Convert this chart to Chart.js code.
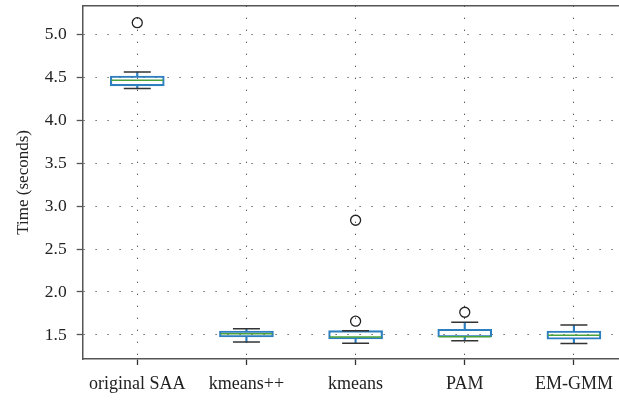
<!DOCTYPE html>
<html>
<head>
<meta charset="utf-8">
<script src="https://cdn.jsdelivr.net/npm/chart.js@4"></script>
<style>
html,body{margin:0;padding:0;background:#fff;overflow:hidden}
#wrap{width:640px;height:400px}
</style>
</head>
<body>
<div id="wrap"><canvas id="chart" width="640" height="400"></canvas></div>
<script>
// box plot values
const methods = ['original SAA','kmeans++','kmeans','PAM','EM-GMM'];
const whiskerLow  = [4.37, 1.418, 1.403, 1.433, 1.40];
const q1          = [4.40, 1.476, 1.453, 1.476, 1.45];
const median      = [4.465,1.515, 1.476, 1.48,  1.496];
const q3          = [4.515,1.546, 1.55,  1.566, 1.546];
const whiskerHigh = [4.56, 1.573, 1.55,  1.647, 1.616];
const outlierX = ['original SAA','kmeans','kmeans','PAM'];
const outlierY = [5.135, 2.835, 1.66, 1.764];
const yTicks = [1.5,2.0,2.5,3.0,3.5,4.0,4.5,5.0];

const serif = '"Liberation Serif", "DejaVu Serif", serif';
const blue = '#2e7fc0';

const topBorder = {
  id:'topBorder',
  afterDraw(c){
    const a = c.chartArea, ctx = c.ctx;
    ctx.save();
    ctx.strokeStyle = '#555'; ctx.lineWidth = 1.5;
    ctx.beginPath(); ctx.moveTo(a.left, a.top); ctx.lineTo(a.right+2, a.top); ctx.stroke();
    ctx.restore();
  }
};

function noPad(s){ s.paddingLeft = 0; s.paddingRight = 0; s.paddingTop = 0; s.paddingBottom = 0; }

new Chart($('chart'), {
  type:'bar',
  data:{
    labels: methods,
    datasets:[
      {label:'upper whisker', data: methods.map((m,i)=>[q3[i], whiskerHigh[i]]),
       backgroundColor: blue, barThickness: 1.5, grouped:false, order:5},
      {label:'lower whisker', data: methods.map((m,i)=>[whiskerLow[i], q1[i]]),
       backgroundColor: blue, barThickness: 1.5, grouped:false, order:5},
      {label:'box', data: methods.map((m,i)=>[q1[i], q3[i]]),
       backgroundColor:'rgba(255,255,255,0)', borderColor: blue, borderWidth:1.5,
       borderSkipped:false, barThickness: 54, grouped:false, order:3},
      {type:'line', label:'median', data: median, showLine:false,
       pointStyle:'line', pointRadius:26, pointHoverRadius:26, borderColor:'#4aa33a', borderWidth:1.5, order:2},
      {type:'line', label:'cap high', data: whiskerHigh, showLine:false,
       pointStyle:'line', pointRadius:13.5, pointHoverRadius:13.5, borderColor:'#333', borderWidth:1.5, order:1},
      {type:'line', label:'cap low', data: whiskerLow, showLine:false,
       pointStyle:'line', pointRadius:13.5, pointHoverRadius:13.5, borderColor:'#333', borderWidth:1.5, order:1},
      {type:'line', label:'outliers', data: outlierX.map((x,i)=>({x:x, y:outlierY[i]})), showLine:false,
       pointStyle:'circle', pointRadius:5, borderColor:'#222', borderWidth:1.3,
       backgroundColor:'rgba(255,255,255,0)', order:0}
    ]
  },
  options:{
    responsive:false,
    animation:false,
    events:[],
    layout:{autoPadding:false, padding:{top:5.7, right:11.5, left:0, bottom:0}},
    plugins:{legend:{display:false}, tooltip:{enabled:false}},
    scales:{
      x:{
        offset:true,
        grid:{offset:false, color:'#444', lineWidth:1, tickLength:6, tickColor:'#333', tickWidth:1.3},
        border:{display:true, color:'#555', width:1.5, dash:[1.2,10.8]},
        ticks:{color:'#222', font:{family:serif, size:18}, padding:8, maxRotation:0, autoSkip:false},
        afterFit(s){ s.height = 41; noPad(s); }
      },
      y:{
        min:1.22, max:5.333,
        afterBuildTicks(s){ s.ticks = yTicks.map(v=>({value:v})); },
        grid:{color:'#444', lineWidth:1, tickLength:6, tickColor:'#555', tickWidth:1.3},
        border:{display:true, color:'#555', width:1.5, dash:[1.2,10.8]},
        ticks:{color:'#222', font:{family:serif, size:17.5}, padding:10, callback:v=>v.toFixed(1)},
        title:{display:true, text:'Time (seconds)', color:'#222', font:{family:serif, size:17}, padding:{top:13,bottom:0}},
        afterFit(s){ s.width = 82.7; noPad(s); }
      }
    }
  },
  plugins:[topBorder]
});

function $(id){return document.getElementById(id)}
</script>
</body>
</html>
